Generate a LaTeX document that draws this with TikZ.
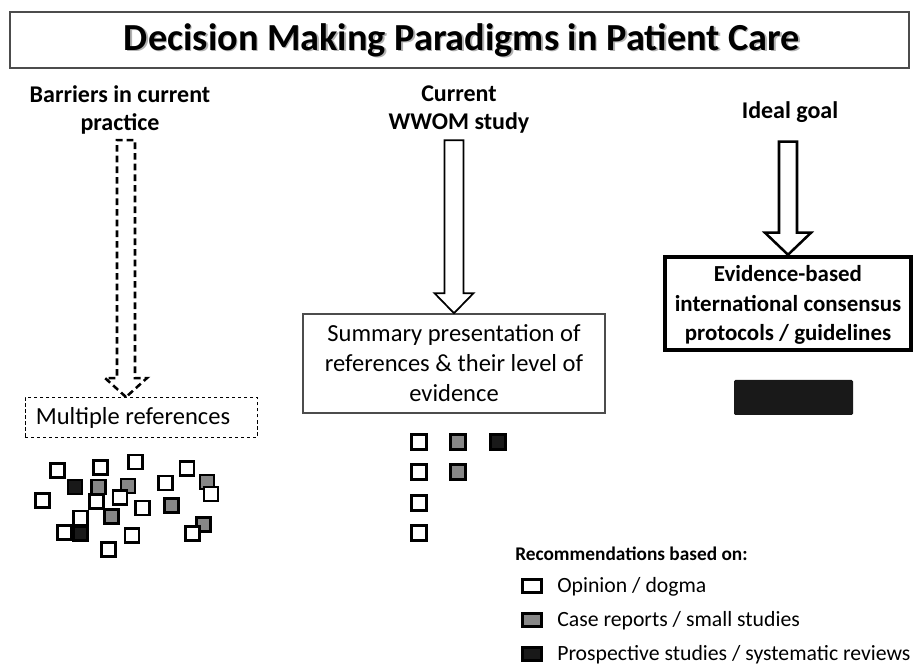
\documentclass[tikz,border=0pt]{standalone}
\usepackage{fontspec}
\setmainfont{Carlito}
\usetikzlibrary{calc}

\definecolor{midgray}{gray}{0.53}
\definecolor{nearblack}{gray}{0.1}
\definecolor{framegray}{gray}{0.3}

% block arrow pointing down: #1 style, #2 tip, #3 total length, #4 head length,
% #5 half shaft width, #6 half head width (all in picture units)
\newcommand{\blockarrow}[6]{%
  \draw[#1] (#2) -- ++(-#6,-#4) -- ++(#6-#5,0) -- ++(0,#4-#3) -- ++(2*#5,0)
    -- ++(0,#3-#4) -- ++(#6-#5,0) -- cycle;}

\begin{document}
\begin{tikzpicture}[x=0.75pt,y=-0.75pt,
  titlefont/.style={font=\bfseries\fontsize{28.7}{32}\selectfont},
  header/.style={font=\bfseries\fontsize{18}{21}\selectfont, align=center, inner sep=0pt},
  body/.style={font=\fontsize{18.4}{22.5}\selectfont, align=center, inner sep=0pt},
  legendtext/.style={font=\fontsize{16.3}{19}\selectfont, anchor=base west, inner sep=0pt},
  sq/.style={draw=black, line width=2.2pt, line join=miter},
  lsq/.style={draw=black, line width=2pt, minimum width=13.9pt, minimum height=10.1pt, inner sep=0pt},
  hollow/.style={draw=black, fill=white, line width=1.3pt, line join=miter},
  dasharrow/.style={draw=black, fill=white, line width=1.9pt, dash pattern=on 5pt off 3pt, line join=miter},
]
\useasboundingbox (0,0) rectangle (921,666);
\fill[white] (0,0) rectangle (921,666);

% title banner
\draw[framegray, line width=1.1pt] (10,12) rectangle (909,68);
\node[titlefont, text=black!30] (titleshadow) at (463.5,41.5) {Decision Making Paradigms in Patient Care};
\node[titlefont] (title) at (462,40) {Decision Making Paradigms in Patient Care};

% column headings
\node[header] (h1) at (120,110) {Barriers in current\\practice};
\node[header] (h2) at (459,110) {Current\\WWOM study};
\node[header] (h3) at (790,112) {Ideal goal};

% target boxes
\node[draw=black, dash pattern=on 2.5pt off 2pt, line width=0.7pt,
      minimum width=232*0.75pt, minimum height=40*0.75pt, inner sep=0pt] (mult) at (141,417.5) {};
\node[body] (multtext) at (133,418) {Multiple references};
\node[body, draw=framegray, line width=1.2pt, minimum width=302*0.75pt,
      minimum height=99*0.75pt] (sum) at (454,363.5)
      {Summary presentation of\\references \& their level of\\evidence};
\node[draw=black, line width=3.4pt, minimum width=246*0.75pt, minimum height=93*0.75pt,
      inner sep=0pt] (ideal) at (788,303.5) {};
\node[align=center, inner sep=0pt, font=\bfseries\fontsize{17.2}{22}\selectfont] (idealtext) at (788,305)
      {Evidence-based\\international consensus\\protocols / guidelines};
\fill[nearblack, rounded corners=1pt] (734,380) rectangle (853,415);

% arrows from headings to boxes
\coordinate (t1) at ($(mult.north)+(-15,0)$);
\blockarrow{dasharrow}{t1}{257}{19}{9}{21}
\blockarrow{hollow}{sum.north}{173}{20}{9.5}{19.5}
\blockarrow{hollow, line width=1.9pt}{ideal.north}{113}{22}{9}{23}

% scattered references
\foreach \x/\y/\c in {57.7/470.7/white, 100.3/467.7/white, 135.3/462/white, 187/468.7/white,
    165.3/483/white, 42.3/500.3/white, 96.7/501.7/white, 142.3/508/white, 80.3/518/white,
    64.3/532.3/white, 132/535.3/white, 108.3/549.3/white,
    75/487/nearblack, 98.3/487/midgray, 128/486/midgray, 207/482/midgray, 171.3/505.3/midgray,
    111.3/516.3/midgray, 80.3/533.3/nearblack, 203.7/524.7/midgray,
    120/497.3/white, 211/494/white, 192.3/533.7/white}
  \draw[sq, fill=\c] (\x-7,\y-7) rectangle ++(14,14);

% summarised references
\foreach \x/\y/\c in {419/442/white, 458/442/midgray, 498/442/nearblack,
    419/472/white, 458/472/midgray, 419/503/white, 419/533/white}
  \draw[sq, fill=\c] (\x-7.5,\y-7.5) rectangle ++(15,15);

% legend
\node[font=\bfseries\fontsize{14.5}{17}\selectfont, anchor=base west, inner sep=0pt] (lgtitle) at (515,560) {Recommendations based on:};
\node[lsq, fill=white] (k1) at (532,586) {};
\node[lsq, fill=midgray] (k2) at (532,620) {};
\node[lsq, fill=nearblack] (k3) at (532,654) {};
\node[legendtext] (l1) at (557,592) {Opinion / dogma};
\node[legendtext] (l2) at (557,626) {Case reports / small studies};
\node[legendtext] (l3) at (557,660) {Prospective studies / systematic reviews};
\end{tikzpicture}
\end{document}
